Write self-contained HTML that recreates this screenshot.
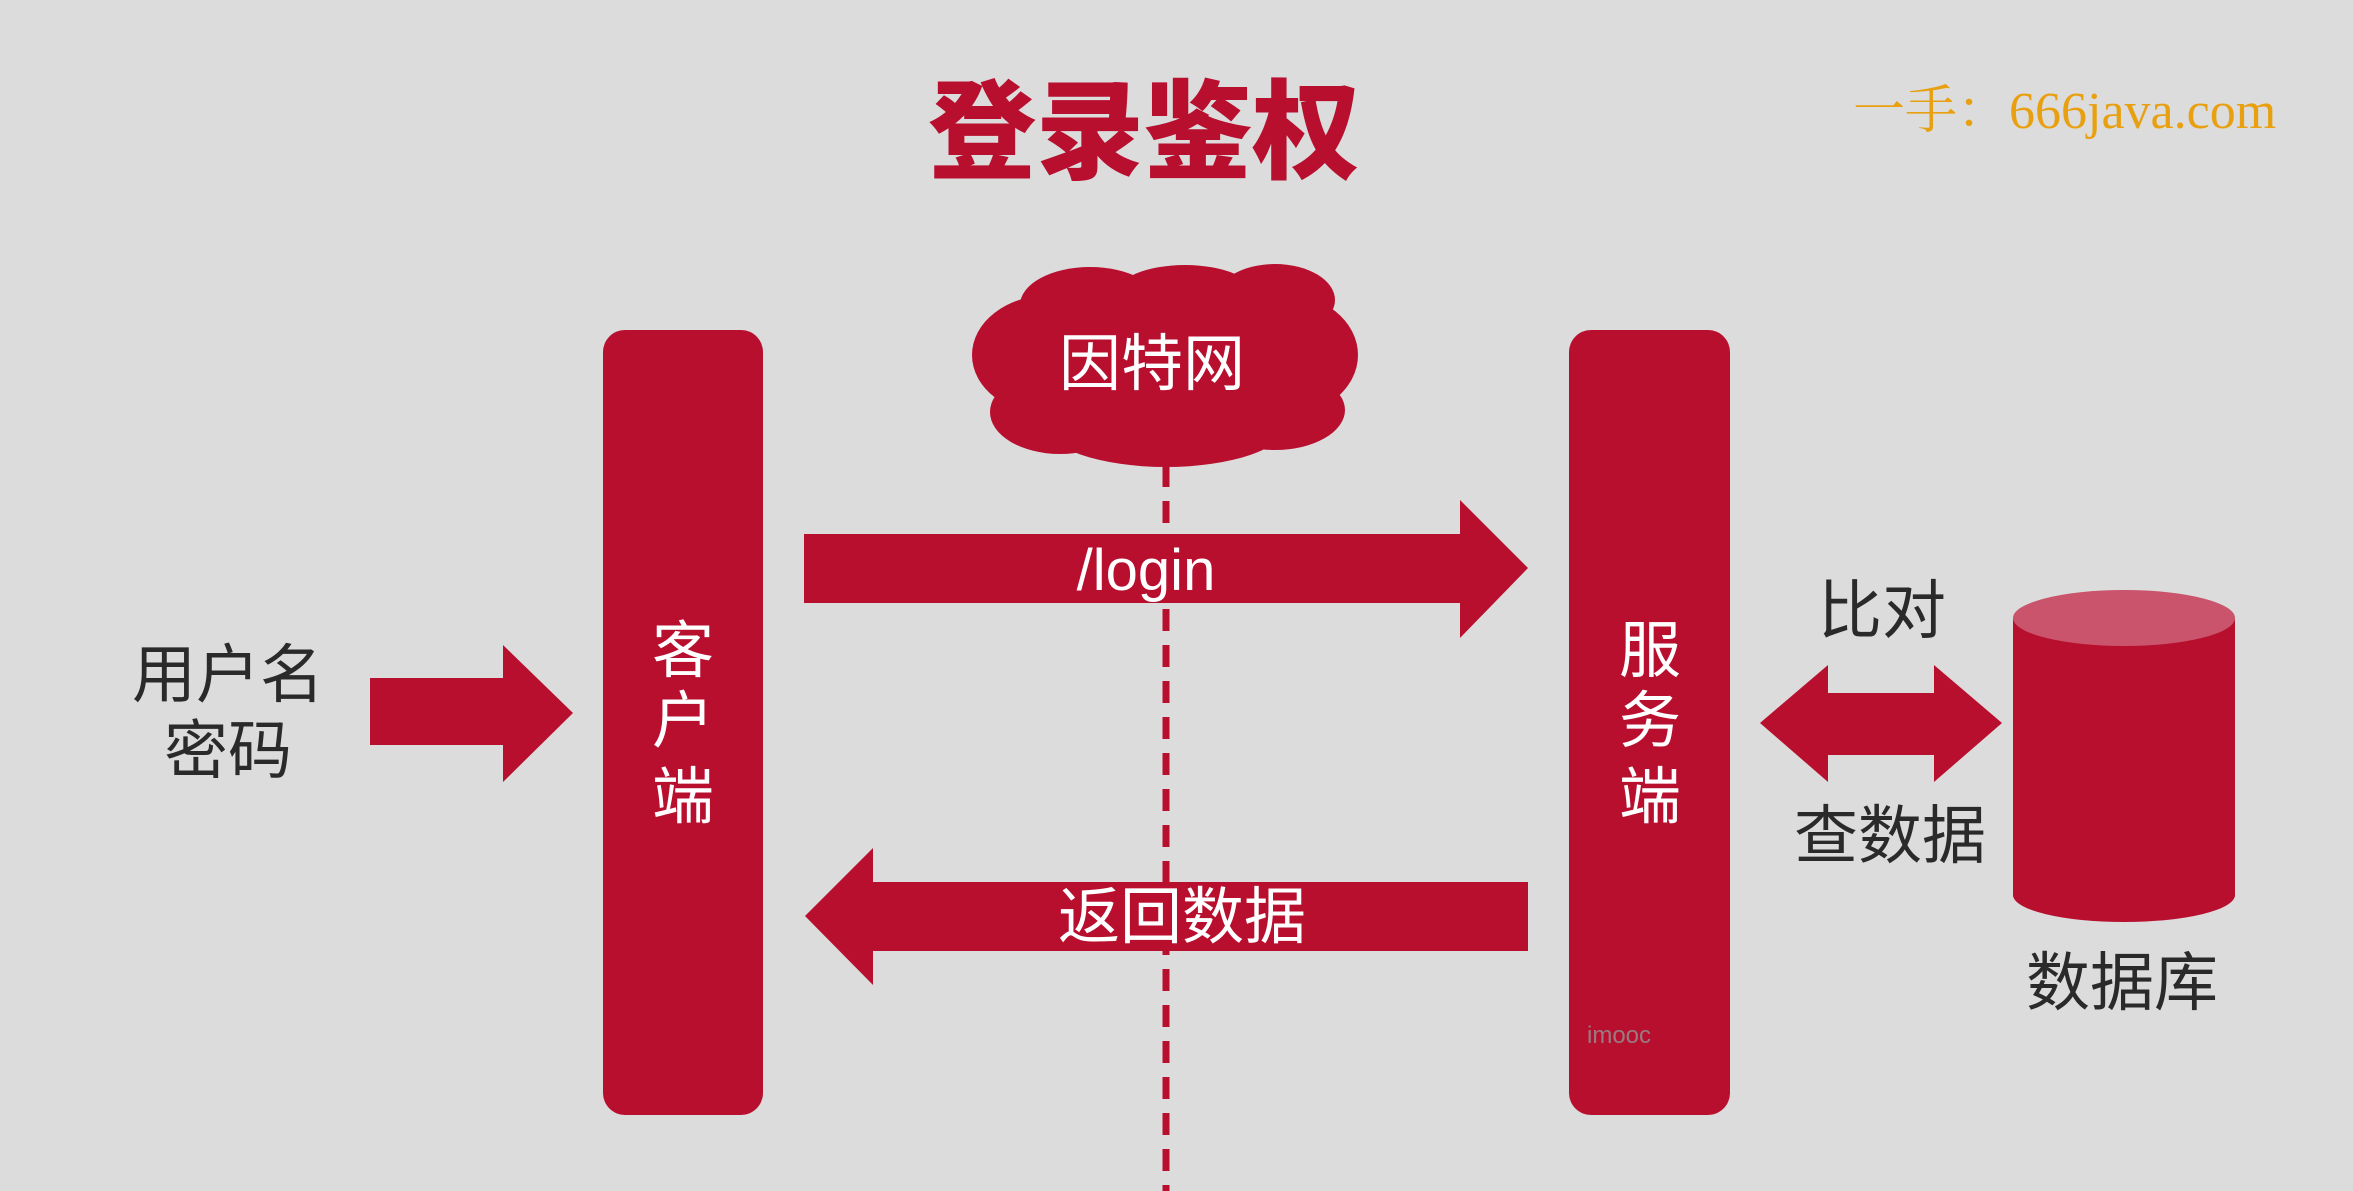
<!DOCTYPE html>
<html><head><meta charset="utf-8">
<style>
html,body{margin:0;padding:0;background:#dcdcdc;}
svg{display:block;}
.cn{font-family:"Liberation Sans","Noto Sans CJK SC",sans-serif;}
</style></head>
<body>
<svg width="2353" height="1191" viewBox="0 0 2353 1191">
<rect x="0" y="0" width="2353" height="1191" fill="#dcdcdc"/>
<text x="1144" y="170" text-anchor="middle" class="cn" font-size="108" font-weight="900" fill="#b80f2f">登录鉴权</text>
<text x="1853" y="128" font-family="'Liberation Serif','Noto Serif CJK SC',serif" font-size="52" fill="#e8a010">一手：666java.com</text>

<line x1="1166" y1="465" x2="1166" y2="1191" stroke="#b80f2f" stroke-width="7" stroke-dasharray="22,14"/>

<g fill="#b80f2f">
<ellipse cx="1166" cy="365" rx="170" ry="80"/>
<ellipse cx="1050" cy="355" rx="78" ry="60"/>
<ellipse cx="1280" cy="355" rx="78" ry="62"/>
<ellipse cx="1090" cy="305" rx="70" ry="38"/>
<ellipse cx="1185" cy="295" rx="70" ry="30"/>
<ellipse cx="1275" cy="300" rx="60" ry="36"/>
<ellipse cx="1166" cy="425" rx="120" ry="42"/>
<ellipse cx="1060" cy="412" rx="70" ry="42"/>
<ellipse cx="1275" cy="410" rx="70" ry="40"/>
</g>
<text x="1152" y="385" text-anchor="middle" class="cn" font-size="62" fill="#fff">因特网</text>

<rect x="603" y="330" width="160" height="785" rx="22" fill="#b80f2f"/>
<rect x="1569" y="330" width="161" height="785" rx="22" fill="#b80f2f"/>
<g class="cn" font-size="62" fill="#fff" text-anchor="middle">
<text x="683" y="672">客</text>
<text x="683" y="742">户</text>
<text x="683" y="818">端</text>
<text x="1650" y="672">服</text>
<text x="1650" y="742">务</text>
<text x="1650" y="818">端</text>
</g>

<polygon points="804,534 1460,534 1460,500 1528,568 1460,638 1460,603 804,603" fill="#b80f2f"/>
<text x="1146" y="590" text-anchor="middle" class="cn" font-size="58" fill="#fff">/login</text>

<polygon points="805,916 873,848 873,882 1528,882 1528,951 873,951 873,985" fill="#b80f2f"/>
<text x="1182" y="938" text-anchor="middle" class="cn" font-size="62" fill="#fff">返回数据</text>

<polygon points="370,678 503,678 503,645 573,713 503,782 503,745 370,745" fill="#b80f2f"/>
<text x="228" y="697" text-anchor="middle" class="cn" font-size="64" fill="#2a2a2a">用户名</text>
<text x="228" y="773" text-anchor="middle" class="cn" font-size="64" fill="#2a2a2a">密码</text>

<polygon points="1760,723 1828,665 1828,693 1934,693 1934,665 2002,723 1934,782 1934,755 1828,755 1828,782" fill="#b80f2f"/>
<text x="1882" y="633" text-anchor="middle" class="cn" font-size="64" fill="#2a2a2a">比对</text>
<text x="1890" y="858" text-anchor="middle" class="cn" font-size="64" fill="#2a2a2a">查数据</text>

<g>
<path d="M2013,618 L2013,895 A111,27 0 0 0 2235,895 L2235,618 Z" fill="#b80f2f"/>
<ellipse cx="2124" cy="618" rx="111" ry="28" fill="#c9546b"/>
</g>
<text x="2122" y="1005" text-anchor="middle" class="cn" font-size="64" fill="#2a2a2a">数据库</text>

<text x="1587" y="1043" font-family="'Liberation Sans',sans-serif" font-size="24" fill="#9a7a80">imooc</text>
</svg>
</body></html>
